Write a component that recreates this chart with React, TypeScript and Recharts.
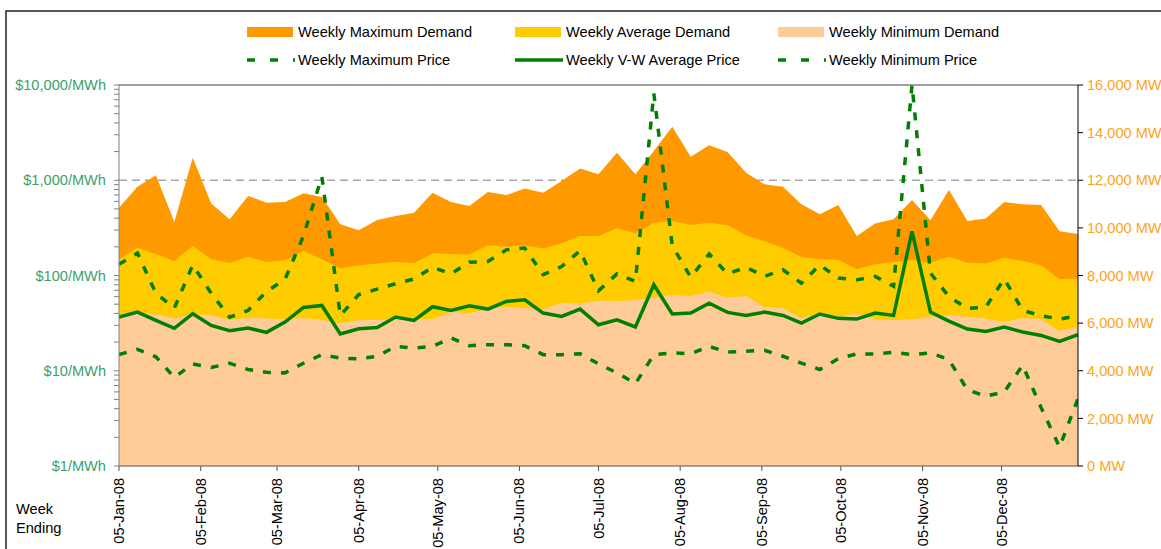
import React from 'react';
import { ComposedChart, Area, Line, XAxis, YAxis, CartesianGrid, ReferenceLine } from 'recharts';

const weekEnding = [
  '2008-01-05', '2008-01-12', '2008-01-19', '2008-01-26',
  '2008-02-02', '2008-02-09', '2008-02-16', '2008-02-23',
  '2008-03-01', '2008-03-08', '2008-03-15', '2008-03-22', '2008-03-29',
  '2008-04-05', '2008-04-12', '2008-04-19', '2008-04-26',
  '2008-05-03', '2008-05-10', '2008-05-17', '2008-05-24', '2008-05-31',
  '2008-06-07', '2008-06-14', '2008-06-21', '2008-06-28',
  '2008-07-05', '2008-07-12', '2008-07-19', '2008-07-26',
  '2008-08-02', '2008-08-09', '2008-08-16', '2008-08-23', '2008-08-30',
  '2008-09-06', '2008-09-13', '2008-09-20', '2008-09-27',
  '2008-10-04', '2008-10-11', '2008-10-18', '2008-10-25',
  '2008-11-01', '2008-11-08', '2008-11-15', '2008-11-22', '2008-11-29',
  '2008-12-06', '2008-12-13', '2008-12-20', '2008-12-27',
  '2009-01-03',
];

const monthTicks = [
  '2008-01-05', '2008-02-05', '2008-03-05', '2008-04-05', '2008-05-05', '2008-06-05',
  '2008-07-05', '2008-08-05', '2008-09-05', '2008-10-05', '2008-11-05', '2008-12-05',
];

const maxDemand = [
  10850, 11730, 12210, 10250, 12950, 11020, 10360, 11340, 11060, 11090,
  11450, 11300, 10150, 9900, 10330, 10500, 10640, 11480, 11090, 10920,
  11510, 11380, 11650, 11480, 11970, 12490, 12250, 13160, 12250, 13230,
  14250, 12990, 13470, 13190, 12320, 11830, 11730, 10990, 10570, 10960,
  9660, 10180, 10360, 11170, 10320, 11590, 10290, 10390, 11090, 10990,
  10960, 9860, 9740,
];

const avgDemand = [
  8680, 9170, 8890, 8610, 9240, 8680, 8530, 8790, 8570, 8640,
  9030, 8680, 8300, 8420, 8500, 8570, 8530, 8930, 8900, 8880,
  9270, 9210, 9270, 9130, 9350, 9660, 9660, 9980, 9770, 10220,
  10290, 10120, 10220, 10110, 9690, 9440, 9170, 8780, 8680, 8660,
  8260, 8470, 8570, 8650, 8540, 8790, 8540, 8500, 8750, 8610,
  8430, 7840, 7870,
];

const minDemand = [
  6160, 6440, 6370, 6190, 6370, 6330, 6130, 6220, 6190, 6160,
  6220, 6130, 5990, 6130, 6130, 6160, 6190, 6160, 6480, 6410,
  6580, 6690, 6640, 6580, 6860, 6820, 6940, 6930, 6970, 7070,
  7180, 7140, 7320, 7070, 7140, 6680, 6640, 6230, 6370, 6270,
  6400, 6160, 6130, 6160, 6270, 6330, 6270, 6190, 6050, 6220,
  6160, 5670, 5850,
];

const vwAvgPrice = [
  36.6, 41.3, 33.8, 27.9, 39.7, 29.9, 26.3, 28.1, 25.3, 32.4,
  46.2, 48.5, 24.3, 27.6, 28.5, 36.6, 33.8, 47.0, 43.0, 48.1,
  44.4, 53.4, 55.6, 40.3, 37.2, 44.4, 30.4, 34.3, 28.8, 79.9,
  39.4, 40.3, 51.3, 41.0, 38.1, 41.3, 38.1, 31.7, 39.4, 35.5,
  34.9, 40.3, 38.1, 290, 41.3, 33.2, 27.4, 25.9, 28.8, 25.5,
  23.5, 20.3, 23.9,
];

const maxPrice = [
  131, 172, 65, 45.5, 129, 65, 36.5, 43, 68, 91,
  260, 1090, 38, 63, 72, 82, 92, 122, 104, 138,
  140, 186, 194, 102, 124, 182, 69, 104, 86.6, 8170,
  205, 96, 168, 104, 122, 98, 115, 83, 129, 94,
  90, 98, 77, 10000, 106, 60, 45, 46.6, 92, 43,
  37.8, 34.9, 37.8,
];

const minPrice = [
  14.75, 16.8, 14.0, 8.5, 11.8, 10.8, 12.0, 10.3, 9.65, 9.5,
  12.0, 14.75, 13.6, 13.3, 14.2, 18.0, 17.3, 18.0, 22.1, 18.3,
  18.8, 18.8, 18.3, 14.75, 14.75, 15.1, 11.8, 9.5, 7.33, 14.75,
  15.4, 15.1, 18.0, 15.7, 16.0, 16.4, 14.2, 12.0, 10.3, 13.4,
  15.0, 15.0, 15.6, 14.75, 15.4, 13.1, 6.3, 5.4, 6.0, 11.4,
  4.1, 1.58, 5.1,
];

const priceMajorTicks = [1, 10, 100, 1000, 10000];
const priceMinorTicks = [
  2, 3, 4, 5, 6, 7, 8, 9,
  20, 30, 40, 50, 60, 70, 80, 90,
  200, 300, 400, 500, 600, 700, 800, 900,
  2000, 3000, 4000, 5000, 6000, 7000, 8000, 9000,
];
const priceGridValues = [10, 100, 1000];
const demandTicks = [0, 2000, 4000, 6000, 8000, 10000, 12000, 14000, 16000];

const MONTHS = ['Jan', 'Feb', 'Mar', 'Apr', 'May', 'Jun', 'Jul', 'Aug', 'Sep', 'Oct', 'Nov', 'Dec'];
const DAY_MS = 86400000;
const ORIGIN = Date.parse(weekEnding[0]);
const toDay = (s: string) => Math.round((Date.parse(s) - ORIGIN) / DAY_MS);
const fmtDay = (d: number) => {
  const dt = new Date(ORIGIN + d * DAY_MS);
  return `${String(dt.getUTCDate()).padStart(2, '0')}-${MONTHS[dt.getUTCMonth()]}-${String(dt.getUTCFullYear()).slice(2)}`;
};

const data = weekEnding.map((w, i) => ({
  day: toDay(w),
  maxD: maxDemand[i],
  avgD: avgDemand[i],
  minD: minDemand[i],
  vw: vwAvgPrice[i],
  maxP: maxPrice[i],
  minP: minPrice[i],
}));

const FONT = "'Liberation Sans', Arial, sans-serif";
const FS = 14.6;
const GREEN = '#008000';
const LEFT_LABEL = '#3C9F6A';
const RIGHT_LABEL = '#FFA31A';

const LeftTick = (props: any) => {
  const { x, y, payload } = props;
  const v = payload.value;
  if (!priceMajorTicks.includes(v)) return null;
  return (
    <text x={x} y={y} dy={5} textAnchor="end" fill={LEFT_LABEL} fontSize={FS} fontFamily={FONT}>
      {`$${v.toLocaleString('en-US')}/MWh`}
    </text>
  );
};

const XTick = (props: any) => {
  const { x, y, payload } = props;
  return (
    <g transform={`translate(${x},${y})`}>
      <text x={0} y={0} dy={5} transform="rotate(-90)" textAnchor="end" fill="#000" fontSize={FS} fontFamily={FONT}>
        {fmtDay(payload.value)}
      </text>
    </g>
  );
};

const legendRow1 = [
  { x: 247, label: 'Weekly Maximum Demand', color: '#FF9900' },
  { x: 515, label: 'Weekly Average Demand', color: '#FFCC00' },
  { x: 778, label: 'Weekly Minimum Demand', color: '#FFCC99' },
];
const legendRow2 = [
  { x: 247, label: 'Weekly Maximum Price', dash: '8 15' },
  { x: 515, label: 'Weekly V-W Average Price', dash: '' },
  { x: 778, label: 'Weekly Minimum Price', dash: '8 15' },
];

export default function App() {
  return (
    <div style={{ position: 'absolute', left: 0, top: 0, width: 1161, height: 549, overflow: 'hidden', background: '#fff' }}>
      <ComposedChart
        width={1161}
        height={549}
        data={data}
        margin={{ top: 85, right: 0, bottom: 0, left: 0 }}
      >
        <CartesianGrid
          yAxisId="left"
          vertical={false}
          horizontalValues={priceGridValues}
          stroke="#A6A6A6"
          strokeDasharray="8 5"
          strokeWidth={1.5}
        />
        <XAxis
          dataKey="day"
          type="number"
          domain={[0, 364]}
          ticks={monthTicks.map(toDay)}
          interval={0}
          tick={<XTick />}
          tickSize={5}
          tickMargin={7}
          height={83}
          stroke="#555"
          allowDataOverflow
        />
        <YAxis
          yAxisId="left"
          scale="log"
          domain={[1, 10000]}
          allowDataOverflow
          ticks={[...priceMajorTicks, ...priceMinorTicks]}
          interval={0}
          tick={<LeftTick />}
          tickSize={5}
          tickMargin={8}
          width={119}
          stroke="#808080"
        />
        <YAxis
          yAxisId="right"
          orientation="right"
          domain={[0, 16000]}
          ticks={demandTicks}
          interval={0}
          tickFormatter={(v: number) => `${v.toLocaleString('en-US')} MW`}
          tick={{ fill: RIGHT_LABEL, fontSize: FS, fontFamily: FONT }}
          tickSize={5}
          tickMargin={4}
          width={83}
          stroke="#000"
        />
        <Area yAxisId="right" type="linear" dataKey="maxD" stroke="none" fill="#FF9900" fillOpacity={1} isAnimationActive={false} />
        <Area yAxisId="right" type="linear" dataKey="avgD" stroke="none" fill="#FFCC00" fillOpacity={1} isAnimationActive={false} />
        <Area yAxisId="right" type="linear" dataKey="minD" stroke="none" fill="#FFCC99" fillOpacity={1} isAnimationActive={false} />
        <Line yAxisId="left" type="linear" dataKey="maxP" stroke={GREEN} strokeWidth={3.5} strokeDasharray="8 10" dot={false} isAnimationActive={false} />
        <Line yAxisId="left" type="linear" dataKey="minP" stroke={GREEN} strokeWidth={3.5} strokeDasharray="8 10" dot={false} isAnimationActive={false} />
        <Line yAxisId="left" type="linear" dataKey="vw" stroke={GREEN} strokeWidth={3.5} dot={false} isAnimationActive={false} />
        <ReferenceLine yAxisId="left" y={10000} stroke="#808080" strokeWidth={1.5} />
      </ComposedChart>
      <svg width={1161} height={549} style={{ position: 'absolute', left: 0, top: 0, pointerEvents: 'none' }}>
        <rect x={6} y={11} width={1400} height={800} fill="none" stroke="#222" strokeWidth={1.5} />
        {legendRow1.map((it) => (
          <g key={it.label}>
            <rect x={it.x} y={27} width={46} height={10} fill={it.color} />
            <text x={it.x + 51} y={37} fontSize={FS} fontFamily={FONT} fill="#000">{it.label}</text>
          </g>
        ))}
        {legendRow2.map((it) => (
          <g key={it.label}>
            <line x1={it.x} x2={it.x + 48} y1={60} y2={60} stroke={GREEN} strokeWidth={3.5} strokeDasharray={it.dash || undefined} />
            <text x={it.x + 51} y={65} fontSize={FS} fontFamily={FONT} fill="#000">{it.label}</text>
          </g>
        ))}
        <text x={16} y={514} fontSize={FS} fontFamily={FONT} fill="#000">Week</text>
        <text x={16} y={533} fontSize={FS} fontFamily={FONT} fill="#000">Ending</text>
      </svg>
    </div>
  );
}
